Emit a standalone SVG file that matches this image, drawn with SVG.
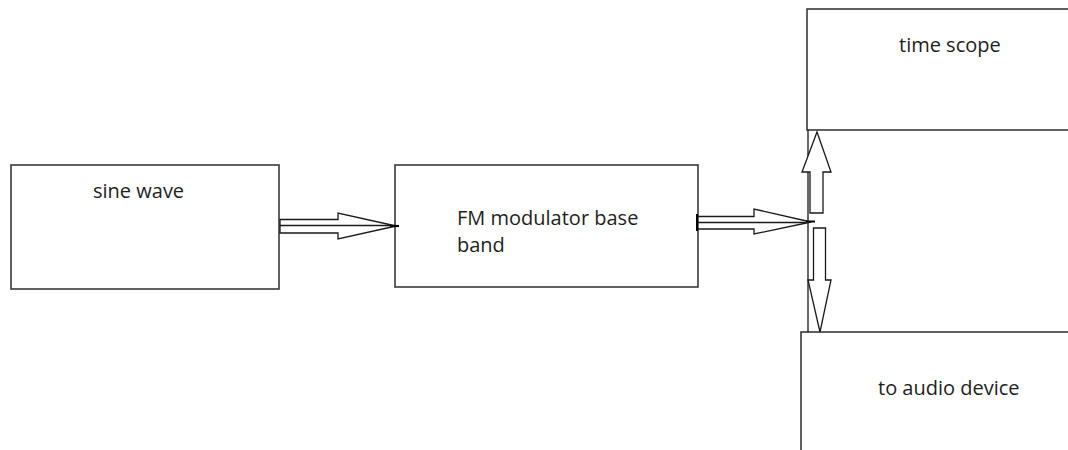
<svg xmlns="http://www.w3.org/2000/svg" width="1068" height="450" viewBox="0 0 1068 450">
<style>
.box{fill:#fff;stroke:#3a3a3a;stroke-width:1.6}
.lbl{font-family:"Open Sans","Noto Sans",sans-serif;font-size:20px;fill:#1e1e1e}
.arr{fill:#fff;stroke:#1a1a1a;stroke-width:1.3;stroke-linejoin:miter}
.ln{stroke:#1a1a1a;stroke-width:1.3;fill:none}
</style>
<rect width="1068" height="450" fill="#fff"/>
<g id="sine-wave">
<rect class="box" x="11" y="165" width="268" height="124"/>
<text class="lbl" x="93" y="198">sine wave</text>
</g>
<g id="fm-modulator">
<rect class="box" x="395" y="165" width="303" height="122"/>
<text class="lbl" x="457" y="225">FM modulator base</text>
<text class="lbl" x="457" y="252">band</text>
</g>
<g id="time-scope">
<rect class="box" x="807" y="9" width="300" height="121"/>
<text class="lbl" x="899" y="52">time scope</text>
</g>
<g id="audio-device">
<rect class="box" x="801" y="332" width="300" height="150"/>
<text class="lbl" x="878" y="395">to audio device</text>
</g>
<g id="connectors">
<polygon class="arr" points="280,219.5 338,219.5 338,213 396,226 338,239 338,233 280,233"/>
<line class="ln" x1="280" y1="225.5" x2="392" y2="225.5"/>
<line x1="390" y1="226" x2="399" y2="226" stroke="#000" stroke-width="2.2"/>
<polygon class="arr" points="698,216.5 754,216.5 754,209 811,222 754,234 754,229 698,229"/>
<line class="ln" x1="698" y1="222.5" x2="806" y2="222.5"/>
<line x1="697" y1="214" x2="697" y2="231" stroke="#000" stroke-width="2"/>
<line x1="806" y1="221.5" x2="815" y2="221.5" stroke="#000" stroke-width="2"/>
<line class="ln" x1="808" y1="130" x2="808" y2="332"/>
<polygon class="arr" points="810,213 810,172 802,172 817,132 831,172 823,172 823,213"/>
<polygon class="arr" points="813.5,228 825.5,228 825.5,280 831,280 820,332 808,280 813.5,280"/>
</g>
</svg>
